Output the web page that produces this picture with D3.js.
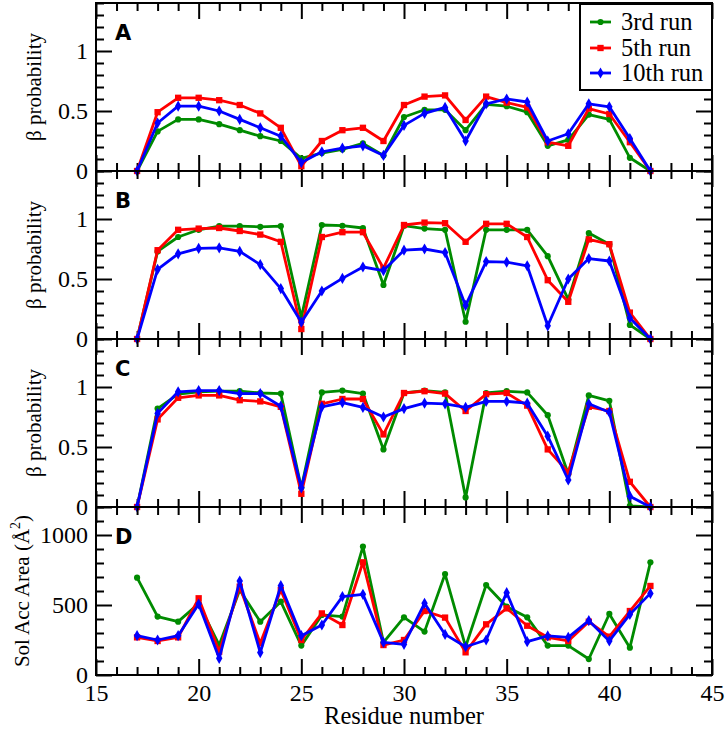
<!DOCTYPE html>
<html><head><meta charset="utf-8">
<script src="https://cdn.jsdelivr.net/npm/d3@7"></script>
<style>body{margin:0;background:#fff}</style>
</head><body>
<svg id="chart" width="725" height="729"></svg>
<script>
// ---------- data ----------
const residues = [17,18,19,20,21,22,23,24,25,26,27,28,29,30,31,32,33,34,35,36,37,38,39,40,41,42];
const seriesNames = ["3rd run","5th run","10th run"];
const panelLetters = ["A","B","C","D"];

const A_run3  = [0,0.33,0.43,0.43,0.39,0.34,0.29,0.25,0.105,0.15,0.18,0.23,0.13,0.45,0.51,0.51,0.34,0.555,0.54,0.49,0.21,0.26,0.47,0.43,0.11,0];
const A_run5  = [0,0.49,0.61,0.61,0.59,0.55,0.48,0.36,0.04,0.25,0.34,0.36,0.25,0.55,0.62,0.63,0.425,0.62,0.57,0.53,0.24,0.21,0.52,0.475,0.24,0];
const A_run10 = [0,0.40,0.54,0.54,0.50,0.43,0.36,0.29,0.07,0.16,0.19,0.21,0.13,0.38,0.48,0.53,0.25,0.56,0.60,0.575,0.25,0.31,0.56,0.535,0.27,0];

const B_run3  = [0,0.73,0.85,0.91,0.94,0.94,0.935,0.94,0.18,0.95,0.944,0.925,0.45,0.944,0.92,0.91,0.144,0.91,0.91,0.91,0.69,0.33,0.883,0.79,0.117,0];
const B_run5  = [0,0.74,0.91,0.92,0.925,0.90,0.87,0.81,0.083,0.85,0.89,0.89,0.59,0.95,0.97,0.965,0.81,0.96,0.96,0.85,0.49,0.31,0.83,0.79,0.22,0];
const B_run10 = [0,0.58,0.71,0.755,0.76,0.73,0.62,0.42,0.14,0.40,0.505,0.60,0.57,0.74,0.75,0.72,0.28,0.645,0.64,0.61,0.11,0.50,0.67,0.65,0.175,0];

const C_run3  = [0,0.82,0.94,0.96,0.965,0.965,0.95,0.945,0.16,0.955,0.97,0.945,0.48,0.95,0.97,0.955,0.08,0.95,0.965,0.955,0.765,0.275,0.93,0.885,0.01,0];
const C_run5  = [0,0.73,0.91,0.93,0.93,0.89,0.88,0.835,0.11,0.86,0.90,0.90,0.605,0.95,0.965,0.945,0.80,0.94,0.95,0.845,0.48,0.29,0.835,0.80,0.21,0];
const C_run10 = [0,0.78,0.96,0.97,0.97,0.945,0.945,0.84,0.16,0.835,0.87,0.83,0.75,0.82,0.865,0.86,0.83,0.88,0.88,0.865,0.59,0.225,0.86,0.79,0.09,0];

const D_run3  = [695,417,381,510,214,607,381,524,210,429,417,917,233,412,310,721,202,643,488,412,210,210,114,436,195,805];
const D_run5  = [269,243,269,548,167,631,226,607,250,440,357,805,214,250,457,410,162,362,476,352,269,243,381,274,457,636];
const D_run10 = [281,250,281,507,119,671,160,638,281,357,560,576,233,219,512,290,202,250,588,238,279,269,388,243,433,583];

const xDomain = [15,45];
const xMajorTicks = [15,20,25,30,35,40,45];
const xTickLabels = ["15","20","25","30","35","40","45"];
const betaDomain = [0,1.4];
const betaMajorTicks = [0,0.5,1];
const betaTickLabels = ["0","0.5","1"];
const sasaDomain = [0,1200];
const sasaMajorTicks = [0,500,1000];
const sasaTickLabels = ["0","500","1000"];

const betaLabel = "β probability";
const xLabel = "Residue number";

// ---------- layout ----------
const svg = d3.select("#chart");
const L = 96, R = 712, panelTop = 3, panelH = 168;
const colors = ["#008b00","#ff0000","#0000ff"];
const SERIF = '"Liberation Serif"';
const SANS = '"DejaVu Sans"';

const x = d3.scaleLinear().domain(xDomain).range([L, R]);
const xMinorTicks = d3.range(xDomain[0], xDomain[1] + 1).filter(v => v % 5 !== 0);

const panels = [
  {letter: panelLetters[0], series: [A_run3, A_run5, A_run10], domain: betaDomain, major: betaMajorTicks, labels: betaTickLabels, minorStep: 0.1},
  {letter: panelLetters[1], series: [B_run3, B_run5, B_run10], domain: betaDomain, major: betaMajorTicks, labels: betaTickLabels, minorStep: 0.1},
  {letter: panelLetters[2], series: [C_run3, C_run5, C_run10], domain: betaDomain, major: betaMajorTicks, labels: betaTickLabels, minorStep: 0.1},
  {letter: panelLetters[3], series: [D_run3, D_run5, D_run10], domain: sasaDomain, major: sasaMajorTicks, labels: sasaTickLabels, minorStep: 100}
];

const symbol = [d3.symbol().type(d3.symbolCircle).size(30),
                d3.symbol().type(d3.symbolSquare).size(40),
                d3.symbol().type(d3.symbolDiamond).size(36)];

function styleAxis(g){
  g.select(".domain").remove();
  g.attr("font-family", null).attr("font-size", null);
  g.selectAll(".tick line").attr("stroke","#000").attr("stroke-width",2);
  g.selectAll(".tick text").style("font-family", SERIF).style("font-size","24px").attr("fill","#000");
}

panels.forEach((p, i) => {
  const top = panelTop + i * panelH, bot = top + panelH;
  const y = d3.scaleLinear().domain(p.domain).range([bot, top]);
  const yMinor = d3.range(p.domain[0], p.domain[1] + p.minorStep/2, p.minorStep)
                   .filter(v => !p.major.some(m => Math.abs(m - v) < 1e-6));
  const isLast = i === panels.length - 1;

  // minor ticks
  svg.append("g").attr("transform",`translate(${L},0)`).call(d3.axisLeft(y).tickValues(yMinor).tickSize(-8).tickFormat("")).call(styleAxis);
  svg.append("g").attr("transform",`translate(${R},0)`).call(d3.axisRight(y).tickValues(yMinor).tickSize(-8).tickFormat("")).call(styleAxis);
  svg.append("g").attr("transform",`translate(0,${bot})`).call(d3.axisBottom(x).tickValues(xMinorTicks).tickSize(-8).tickFormat("")).call(styleAxis);
  svg.append("g").attr("transform",`translate(0,${top})`).call(d3.axisTop(x).tickValues(xMinorTicks).tickSize(-8).tickFormat("")).call(styleAxis);
  // major ticks
  svg.append("g").attr("transform",`translate(${L},0)`)
    .call(d3.axisLeft(y).tickValues(p.major).tickSize(-16).tickPadding(8).tickFormat((d,k) => p.labels[k])).call(styleAxis);
  svg.append("g").attr("transform",`translate(${R},0)`).call(d3.axisRight(y).tickValues(p.major).tickSize(-16).tickFormat("")).call(styleAxis);
  svg.append("g").attr("transform",`translate(0,${bot})`)
    .call(d3.axisBottom(x).tickValues(xMajorTicks).tickSize(-16).tickPadding(9).tickFormat((d,k) => isLast ? xTickLabels[k] : "")).call(styleAxis);
  svg.append("g").attr("transform",`translate(0,${top})`).call(d3.axisTop(x).tickValues(xMajorTicks).tickSize(-16).tickFormat("")).call(styleAxis);

  // frame
  svg.append("rect").attr("x",L).attr("y",top).attr("width",R-L).attr("height",panelH)
    .attr("fill","none").attr("stroke","#000").attr("stroke-width",2);

  // series
  const line = d3.line().x((d,k) => x(residues[k])).y(d => y(d));
  p.series.forEach((vals, s) => {
    svg.append("path").datum(vals).attr("d", line).attr("fill","none")
      .attr("stroke", colors[s]).attr("stroke-width", 2.8).attr("stroke-linejoin","round");
    svg.append("g").selectAll("path").data(vals).join("path")
      .attr("transform",(d,k) => `translate(${x(residues[k])},${y(d)})`)
      .attr("d", symbol[s]()).attr("fill", colors[s]);
  });

  // panel letter
  svg.append("text").attr("x",115).attr("y",top + 37).text(p.letter)
    .style("font-family", SANS).style("font-weight","bold").style("font-size","21px");

  // y label
  if (!isLast) {
    svg.append("text").attr("transform",`translate(41,${(top+bot)/2}) rotate(-90)`)
      .attr("text-anchor","middle").style("font-family", SERIF).style("font-size","21px").text(betaLabel);
  } else {
    const t = svg.append("text").attr("transform",`translate(29,${(top+bot)/2}) rotate(-90)`)
      .attr("text-anchor","middle").style("font-family", SERIF).style("font-size","21px");
    t.append("tspan").text("Sol Acc Area (Å");
    t.append("tspan").attr("dy",-9).style("font-size","14px").text("2");
    t.append("tspan").attr("dy",9).text(")");
  }
});

// x label
svg.append("text").attr("x",(L+R)/2).attr("y",724).attr("text-anchor","middle")
  .style("font-family", SERIF).style("font-size","24.5px").text(xLabel);

// legend
const lg = svg.append("g");
lg.append("rect").attr("x",580).attr("y",4).attr("width",132).attr("height",86)
  .attr("fill","#fff").attr("stroke","#000").attr("stroke-width",2);
const rowY = [22,48,73];
seriesNames.forEach((name, s) => {
  lg.append("line").attr("x1",590).attr("x2",611).attr("y1",rowY[s]).attr("y2",rowY[s])
    .attr("stroke",colors[s]).attr("stroke-width",2.8);
  lg.append("path").attr("transform",`translate(600.5,${rowY[s]})`).attr("d",symbol[s]()).attr("fill",colors[s]);
  lg.append("text").attr("x",621).attr("y",rowY[s]+8).style("font-family", SERIF).style("font-size","24.5px").text(name);
});
</script>
</body></html>
